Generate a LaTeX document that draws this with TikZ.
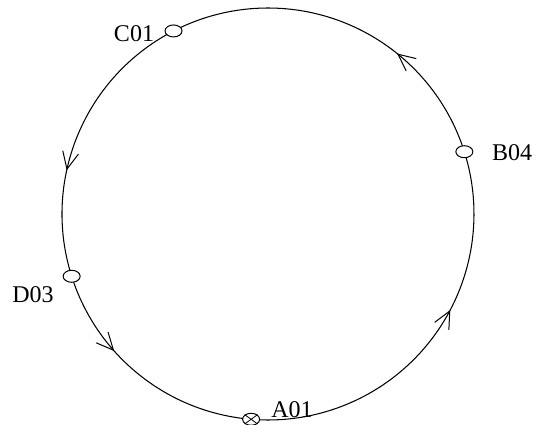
\documentclass[tikz,border=0pt]{standalone}
\usepackage{fontspec}
\setmainfont{Liberation Serif}
\usetikzlibrary{arrows.meta,decorations.markings,shapes.geometric,backgrounds}
\begin{document}
\begin{tikzpicture}[x=1pt,y=1pt,
  station/.style={draw, ellipse, fill=white, minimum width=17pt, minimum height=12pt, inner sep=0pt, line width=1pt},
  lbl/.style={font=\fontsize{24}{24}\selectfont, inner sep=0pt},
  ring/.style={line width=1.05pt},
  flow/.style={ring, postaction={decorate}, decoration={markings, mark=at position #1 with {\arrow{Straight Barb[length=17pt,width=16pt,line width=1pt]}}}}
]
\useasboundingbox (0,0) rectangle (535,425);
\coordinate (O) at (268,211);
\path (O) ++(117.3:206) node[station] (C01) {};
\path (O) ++(17.6:206) node[station] (B04) {};
\path (O) ++(197.6:206) node[station] (D03) {};
\path (O) ++(265.3:206) node[station] (A01) {};
\draw[line width=0.8pt] (A01.north west) -- (A01.south east) (A01.north east) -- (A01.south west);
\begin{scope}[on background layer]
\draw[flow=0.596] (A01.center) arc[start angle=265.3, end angle=377.6, radius=206];
\draw[flow=0.337] (B04.center) arc[start angle=17.6, end angle=117.3, radius=206];
\draw[flow=0.628] (C01.center) arc[start angle=117.3, end angle=197.6, radius=206];
\draw[flow=0.356] (D03.center) arc[start angle=197.6, end angle=265.3, radius=206];
\end{scope}
\node[lbl] (lC01) at (134,391.5) {C01};
\node[lbl] (lB04) at (512,272.5) {B04};
\node[lbl] (lD03) at (33,130.5) {D03};
\node[lbl] (lA01) at (292,15.5) {A01};
\end{tikzpicture}
\end{document}
